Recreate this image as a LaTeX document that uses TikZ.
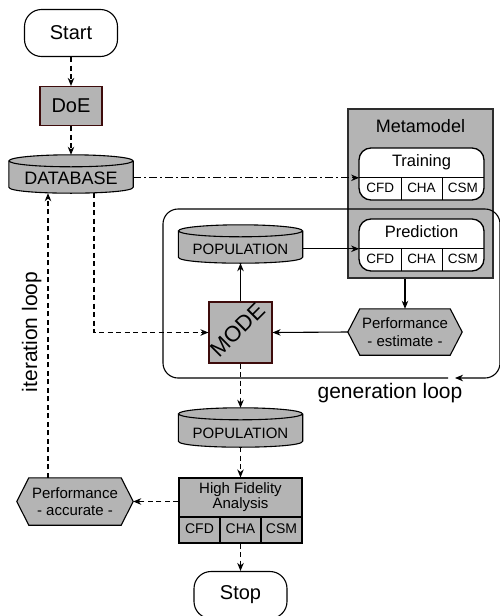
\documentclass[tikz,border=0pt]{standalone}
\usepackage{fontspec}
\setmainfont{Liberation Sans}
\usetikzlibrary{arrows.meta,calc}

\definecolor{boxgray}{RGB}{180,180,180}
\definecolor{boxred}{RGB}{62,12,12}
\definecolor{framegray}{RGB}{45,45,45}

\newcommand\fsize[1]{\fontsize{#1}{#1}\selectfont}

% cylinder-shaped data store around the rectangle node #1
% (centre x = #2, top y = #3, bottom y = #4, label #5)
\newcommand\storecyl[5]{%
  \node[cylbox, minimum height={#4-#3}] (#1) at (#2,{(#3+#4)/2}) {};
  \filldraw[cylline] ($(#1.north west)+(0,6)$) -- ($(#1.south west)+(0,-6)$)
    .. controls ($(#1.south west)+(0,2)$) and ($(#1.south east)+(0,2)$) .. ($(#1.south east)+(0,-6)$)
    -- ($(#1.north east)+(0,6)$);
  \filldraw[cylline] ($(#1.north)+(0,6)$) ellipse[x radius=62pt, y radius=6pt];
  \node[cyltext] (#1-text) at ($(#1.south)+(0,-12)$) {#5};
}

% metamodel stage: rounded white box with a title and three discipline cells
\newcommand\modelbox[3]{%
  \node[modelframe] (#1) at (421.5,{#2+26}) {};
  \node[titletext] (#1-title) at (421.5,{#2+15}) {#3};
  \node[celltext] (#1-cfd) at (380.17,{#2+41}) {CFD};
  \node[celltext] (#1-cha) at (421.5,{#2+41}) {CHA};
  \node[celltext] (#1-csm) at (462.83,{#2+41}) {CSM};
  \draw[cellline] (#1-cfd.north west) -- (#1-csm.north east);
  \draw[cellline] (#1-cfd.north east) -- (#1-cfd.south east);
  \draw[cellline] (#1-cha.north east) -- (#1-cha.south east);
}

% hexagonal performance block around the rectangle node #1
% (centre #2, width #3, height #4, label #5)
\newcommand\hexblock[5]{%
  \node[hexbox,minimum width=#3,minimum height=#4] (#1) at (#2) {};
  \filldraw[hexline] (#1.west) -- ($(#1.north west)+(12,0)$) -- ($(#1.north east)+(-12,0)$)
    -- (#1.east) -- ($(#1.south east)+(-12,0)$) -- ($(#1.south west)+(12,0)$) -- cycle;
  \node[hextext] (#1-text) at (#1.center) {#5};
}

\begin{document}
\begin{tikzpicture}[x=1pt,y=-1pt,
  tip/.tip={Stealth[length=8pt,width=6.5pt,inset=2.5pt]},
  conn/.style={line width=1.1pt,-tip},
  dashconn/.style={conn,dash pattern=on 5pt off 3.5pt},
  dotconn/.style={conn,dash pattern=on 8pt off 3pt on 2pt off 3pt},
  terminal/.style={draw,line width=1.1pt,rounded corners=17pt,fill=white,
    minimum width=93pt,minimum height=47pt,inner sep=0pt,font=\fsize{20}},
  process/.style={draw=boxred,line width=1.1pt,fill=boxgray,inner sep=0pt,font=\fsize{20}},
  cylbox/.style={rectangle,minimum width=124pt,inner sep=0pt},
  cylline/.style={draw=black,fill=boxgray,line width=1.1pt},
  cyltext/.style={inner sep=0pt,text height=0.72em,text depth=0pt},
  modelframe/.style={draw,line width=1.3pt,fill=white,rounded corners=12pt,
    minimum width=125pt,minimum height=52pt,inner sep=0pt},
  titletext/.style={inner sep=0pt,font=\fsize{16.5},text height=0.72em,text depth=0pt},
  celltext/.style={inner sep=0pt,minimum width=41.67pt,minimum height=22pt,
    font=\fsize{13.5},text height=0.72em,text depth=0pt},
  cellline/.style={line width=1.1pt},
  hexbox/.style={rectangle,inner sep=0pt},
  hexline/.style={draw=black,fill=boxgray,line width=1.1pt},
  hextext/.style={inner sep=0pt,align=center,font=\fontsize{15}{17.5}\selectfont},
  hfacell/.style={draw,line width=1.1pt,fill=boxgray,inner sep=0pt,
    minimum width=41pt,minimum height=26pt,font=\fsize{14},text height=0.72em,text depth=0pt},
  looptext/.style={inner sep=0pt,font=\fsize{21}},
  loopline/.style={line width=1.1pt,rounded corners=15pt,-tip}
]
\useasboundingbox (0,0) rectangle (499,616);
\fill[white] (0,0) rectangle (499,616);

% start, design of experiments, database
\node[terminal] (start) at (71,33) {Start};
\node[process,minimum width=62pt,minimum height=39pt] (doe) at (71,106) {DoE};
\storecyl{db}{71}{155}{193}{\fsize{18}DATABASE}

% metamodel with training and prediction stages
\node[draw=framegray,line width=1.5pt,fill=boxgray,minimum width=145pt,minimum height=169pt,
  inner sep=0pt] (mm) at (420.5,193.5) {};
\node[inner sep=0pt,font=\fsize{18},text height=0.72em,text depth=0pt] (mm-title) at (420.5,129) {Metamodel};
\modelbox{tr}{148}{Training}
\modelbox{pr}{219}{Prediction}

% optimisation loop contents
\storecyl{pop}{240.5}{225}{263}{\fsize{15}POPULATION}
\node[process,minimum width=63pt,minimum height=61pt] (mode) at (240.5,332.5) {};
\node[inner sep=0pt,rotate=45,font=\fsize{22},text height=0.72em,text depth=0pt] (mode-text) at (mode.center) {MODE};
\hexblock{pe}{405,332}{114pt}{46pt}{Performance\\- estimate -}

% generation loop frame
\coordinate (gl-start) at (448,378);
\coordinate (gl-bl) at (163,378);
\coordinate (gl-tl) at (163,209);
\coordinate (gl-tr) at (500,209);
\coordinate (gl-br) at (500,378);
\coordinate (gl-end) at (455,378);
\draw[loopline] (gl-start) -- (gl-bl) -- (gl-tl) -- (gl-tr) -- (gl-br) -- (gl-end);
\node[looptext,anchor=base] (gl-label) at (390,398) {generation loop};

% high fidelity stage and stop
\storecyl{pop2}{240.5}{408}{447}{\fsize{15}POPULATION}
\node[draw,line width=1.1pt,fill=boxgray,minimum width=123pt,minimum height=39pt,inner sep=0pt,
  align=center,font=\fontsize{15}{15}\selectfont] (hfa) at (240.5,497.5) {High Fidelity\\Analysis};
\node[hfacell] (hfa-cfd) at (199.5,530) {CFD};
\node[hfacell] (hfa-cha) at (240.5,530) {CHA};
\node[hfacell] (hfa-csm) at (281.5,530) {CSM};
\hexblock{pa}{75,501.5}{116pt}{47pt}{Performance\\- accurate -}
\node[terminal] (stop) at (240.5,595) {Stop};
\node[looptext,anchor=base,rotate=90] (il-label) at (37,332) {iteration loop};

% connectors
\draw[dashconn] (start.south) -- (doe.north);
\draw[dashconn] (doe.south) -- (db.north);
\draw[dotconn] (db.east |- tr-cfd.north west) -- (tr-cfd.north west);
\draw[conn] (pop.east |- pr-cfd.north west) -- (pr-cfd.north west);
\draw[conn] (mode.north) -- (pop.south);
\draw[conn] (pe.north |- mm.south) -- (pe.north);
\draw[conn] (pe.west) -- (mode.east);
\draw[dashconn] ([xshift=23pt]db.south) |- (mode.west);
\draw[dashconn] (mode.south) -- (pop2.north);
\draw[dashconn] (pop2.south) -- (hfa.north);
\draw[dashconn] (hfa.west |- pa.east) -- (pa.east);
\draw[dashconn] ([xshift=-27pt]pa.north) -- ([xshift=-27pt]pa.north |- db.south);
\draw[dashconn] (hfa-cha.south) -- (stop.north);
\end{tikzpicture}
\end{document}
